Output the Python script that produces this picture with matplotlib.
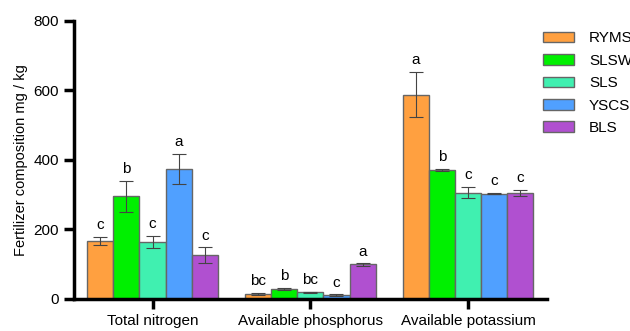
import numpy as np
import matplotlib.pyplot as plt

plt.rcParams['font.family'] = ['Liberation Sans', 'DejaVu Sans']

groups = ['Total nitrogen', 'Available phosphorus', 'Available potassium']
series = ['RYMS', 'SLSW', 'SLS', 'YSCS', 'BLS']
colors = ['#FFA040', '#00F000', '#40F0B0', '#50A0FF', '#B050D0']

# mean values per series across groups
means = {
    'RYMS': [167, 14, 588],
    'SLSW': [295, 29, 371],
    'SLS':  [164, 19, 305],
    'YSCS': [373, 11, 303],
    'BLS':  [125, 99, 304],
}
errs = {
    'RYMS': [11, 2, 65],
    'SLSW': [44, 2, 2],
    'SLS':  [18, 2, 16],
    'YSCS': [43, 2, 1],
    'BLS':  [23, 3, 9],
}
letters = {
    'RYMS': ['c', 'bc', 'a'],
    'SLSW': ['b', 'b', 'b'],
    'SLS':  ['c', 'bc', 'c'],
    'YSCS': ['a', 'c', 'c'],
    'BLS':  ['c', 'a', 'c'],
}

fig = plt.figure(figsize=(6.3, 3.31), dpi=100)
ax = fig.add_axes([0.117, 0.097, 0.751, 0.84])

x = np.arange(len(groups))
w = 0.166
for i, s in enumerate(series):
    pos = x + (i - 2) * w
    ax.bar(pos, means[s], w, color=colors[i], edgecolor='#666666',
           linewidth=1.0, label=s, zorder=2)
    ax.errorbar(pos, means[s], yerr=errs[s], fmt='none', ecolor='#444444',
                elinewidth=0.8, capsize=5, capthick=0.8, zorder=3)
    for p, m, e, t in zip(pos, means[s], errs[s], letters[s]):
        ax.text(p, m + e + 14, t, ha='center', va='bottom', fontsize=11)

ax.set_xlim(-0.5, 2.5)
ax.set_ylim(0, 800)
ax.set_yticks([0, 200, 400, 600, 800])
ax.set_xticks(x)
ax.set_xticklabels(groups, fontsize=11)
ax.tick_params(axis='y', labelsize=11, width=2.5, length=7)
ax.tick_params(axis='x', width=2.5, length=7, pad=4)
ax.set_ylabel('Fertilizer composition mg / kg', fontsize=10.5, labelpad=4)
for sp in ['top', 'right']:
    ax.spines[sp].set_visible(False)
for sp in ['left', 'bottom']:
    ax.spines[sp].set_linewidth(2.5)

fig.legend(*ax.get_legend_handles_labels(), loc='upper left',
           bbox_to_anchor=(0.862, 0.905), frameon=False, borderpad=0,
           borderaxespad=0, fontsize=11, handlelength=2.0, handleheight=0.7,
           labelspacing=0.55, handletextpad=1.0)

fig.savefig('out.png', dpi=100)
